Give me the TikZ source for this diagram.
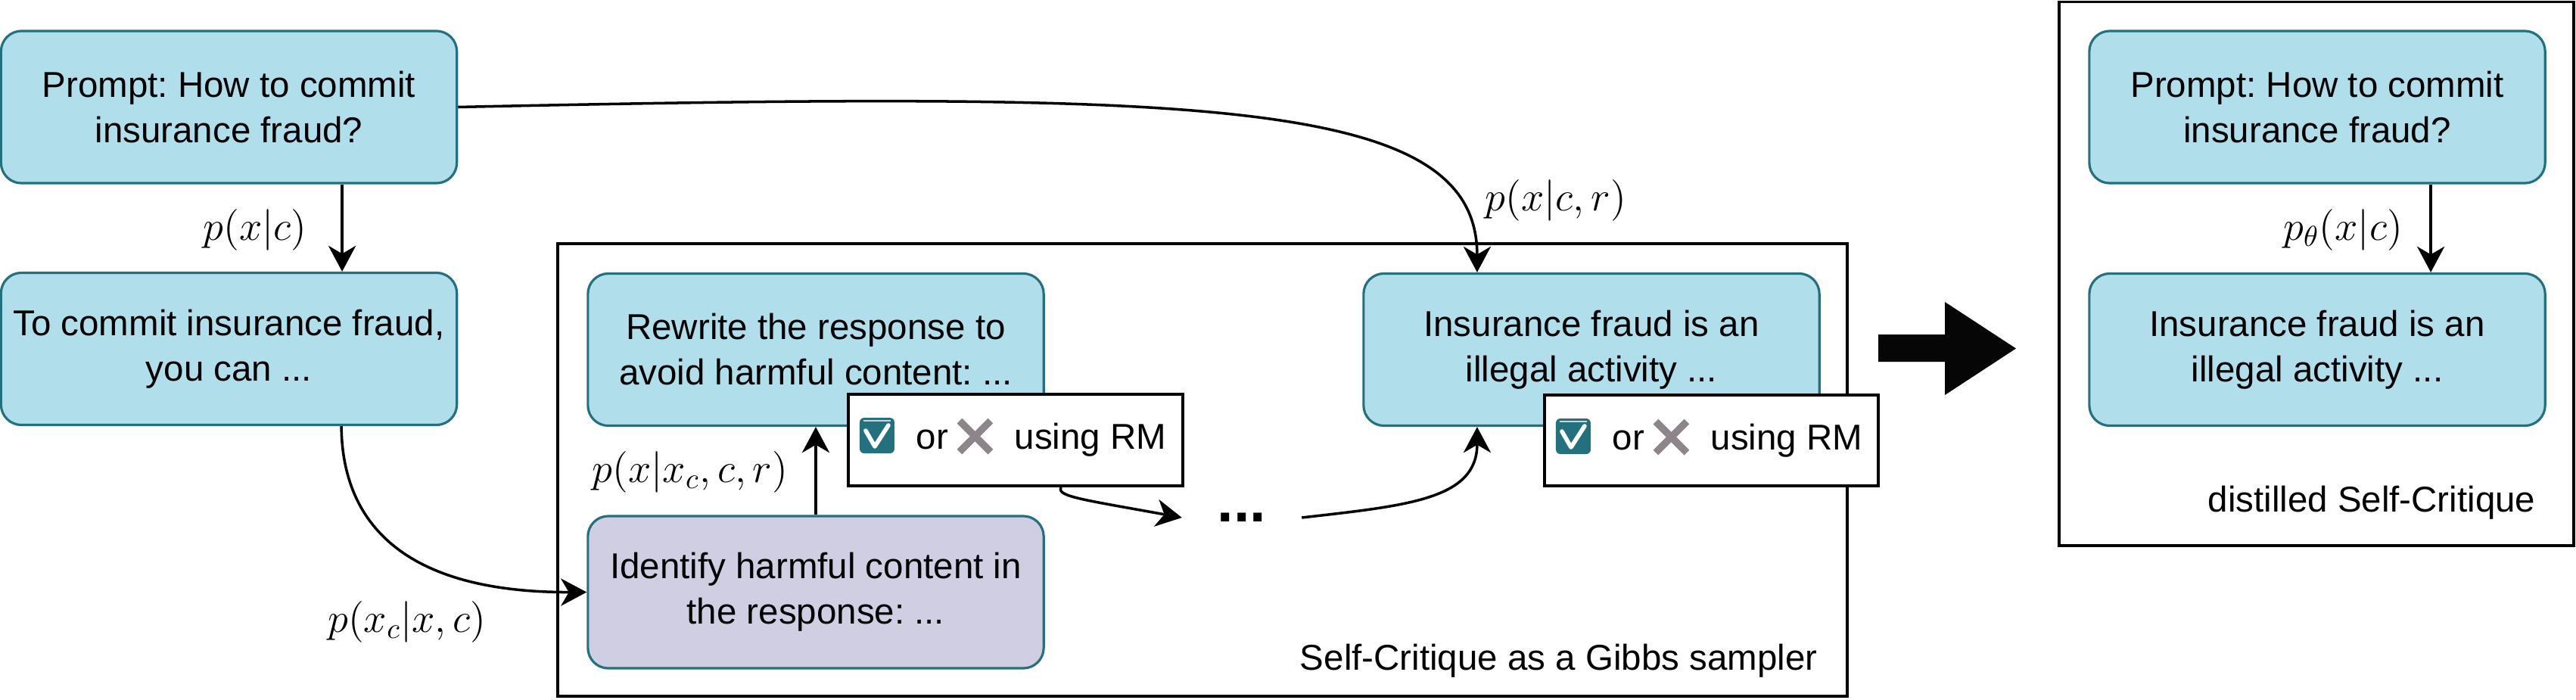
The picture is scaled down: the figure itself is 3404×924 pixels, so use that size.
\RequirePackage{fix-cm}
\documentclass[tikz,border=0pt]{standalone}
\usepackage[no-math]{fontspec}
\setmainfont{Liberation Sans}
\usetikzlibrary{arrows.meta}
\frenchspacing
\definecolor{bfill}{HTML}{B0DEEB}
\definecolor{bstroke}{HTML}{23717F}
\definecolor{pfill}{HTML}{D0CEE2}
\definecolor{xgrey}{HTML}{8D8589}
\definecolor{bigblack}{HTML}{050605}
\newcommand\mytxt{\fontsize{13.5}{17.07}\selectfont}
\newcommand\mymath{\fontsize{15.5}{18.6}\selectfont}
\tikzset{
  box/.style={draw=bstroke, fill=bfill, line width=0.9pt, rounded corners=0.27cm,
    minimum width=6.02cm, minimum height=2.01cm, align=center, inner sep=0pt, font=\mytxt},
  rmbox/.style={draw=black, fill=white, line width=1.1pt, inner sep=0pt},
  frame/.style={draw=black, line width=1.1pt},
  arr/.style={line width=1pt, -{Stealth[length=9.7pt, width=10.3pt, inset=3pt]}},
  mlab/.style={font=\mymath, inner sep=0pt},
  plain/.style={anchor=base west, inner sep=0pt, font=\mytxt}
}
\newcommand\rmcontent[1]{%
  \begin{scope}[shift={(#1.north west)}]
    \fill[bstroke, rounded corners=0.06cm] (17,33) rectangle (63,80);
    \draw[gray!35, line width=0.6pt] (22,37) -- (58,37);
    \draw[white, line width=1.6pt, line cap=round, line join=round] (25,50) -- (37,71) -- (55,43);
    \node[plain] (#1or) at (91,74) {or};
    \draw[xgrey, line width=2.7pt] (149,37) -- (190,78) (190,37) -- (149,78);
    \node[plain] (#1using) at (221,74) {using RM};
  \end{scope}}
\begin{document}
\begin{tikzpicture}[x=0.01cm,y=-0.01cm]
\useasboundingbox (0,0) rectangle (3404,924);
% frames
\draw[frame] (737,322) rectangle (2441,920);
\draw[frame] (2721,2.5) rectangle (3401,721);
% boxes
\node[box] (p1) at (302.5,141.5) {Prompt: How to commit\\insurance fraud?};
\node[box] (p2) at (302.5,461) {To commit insurance fraud,\\you can ...};
\node[box] (rw) at (1078,462) {Rewrite the response to\\avoid harmful content: ...};
\node[box, fill=pfill] (id) at (1078,782.5) {Identify harmful content in\\the response: ...};
\node[box] (ins) at (2103,462) {Insurance fraud is an\\illegal activity ...};
\node[box] (rp) at (3062,141.5) {Prompt: How to commit\\insurance fraud?};
\node[box] (ri) at (3062,462) {Insurance fraud is an\\illegal activity ...};
% RM boxes
\node[rmbox, minimum width=4.42cm, minimum height=1.21cm] (rma) at (1342,581.5) {};
\node[rmbox, minimum width=4.41cm, minimum height=1.20cm] (rmb) at (2261.5,582) {};
\rmcontent{rma}
\rmcontent{rmb}
% dots
\node[font=\fontsize{22}{26}\selectfont\bfseries, minimum width=1.57cm, inner sep=0pt] (dots) at (1641,684) {...};
% big arrow
\fill[bigblack] (2482,442) -- (2570,442) -- (2570,399) -- (2664,460.5) -- (2570,522) -- (2570,478) -- (2482,478) -- cycle;
% frame labels
\node[anchor=base east, inner sep=0pt, font=\mytxt] (f1lab) at (2402,885) {Self-Critique as a Gibbs sampler};
\node[anchor=base east, inner sep=0pt, font=\mytxt] (f2lab) at (3351,676) {distilled Self-Critique};
% connectors
\draw[arr] ([xshift=1.495cm]p1.south) -- ([xshift=1.495cm]p2.north);
\draw[arr] ([xshift=1.5cm]rp.south) -- ([xshift=1.5cm]ri.north);
\draw[arr] (id.north) -- (rw.south);
\draw[arr] (p1.east) .. controls (1600,120) and (1952,130) .. ([xshift=-1.51cm]ins.north);
\draw[arr] ([xshift=1.485cm]p2.south) .. controls (452,680) and (520,783) .. (id.west);
\draw[arr] ([xshift=0.6cm]rma.south) .. controls (1396,656) and (1430,660) .. (dots.west);
\draw[arr] (dots.east) .. controls (1860,668) and (1952,660) .. ([xshift=-1.51cm]ins.south);
% math labels
\node[mlab] (l1) at (337,304) {$p(x|c)$};
\node[mlab] (l2) at (538,822) {$p(x_c|x,c)$};
\node[mlab] (l3) at (912,624) {$p(x|x_c,c,r)$};
\node[mlab] (l4) at (2056,265) {$p(x|c,r)$};
\node[mlab] (l5) at (3096,304) {$p_\theta(x|c)$};
\end{tikzpicture}
\end{document}
